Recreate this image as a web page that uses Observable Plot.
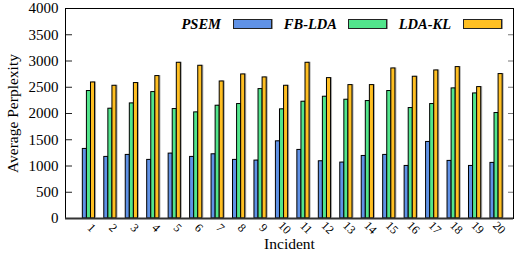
<!DOCTYPE html>
<html><head><meta charset="utf-8">
<script src="https://cdn.jsdelivr.net/npm/d3@7"></script>
<script src="https://cdn.jsdelivr.net/npm/@observablehq/plot@0.6"></script>
<style>
body{margin:0;background:#fff}
#wrap{position:relative;width:514px;height:258px}
#wrap svg text{font-family:"Liberation Serif",serif}
.lt{position:absolute;font:bold italic 14.5px "Liberation Serif",serif;color:#000;line-height:14px;top:17px;text-align:right}
.lb{position:absolute;top:19px;width:37px;height:8px;border:1px solid #222;box-shadow:1px 0 0 #999}
</style></head><body><div id="wrap"></div>
<script>
const incidents = [1,2,3,4,5,6,7,8,9,10,11,12,13,14,15,16,17,18,19,20];
const seriesNames = ["PSEM","FB-LDA","LDA-KL"];
const seriesColors = ["#6092e6","#52e58c","#ffbf22"];
const psem  = [1325,1173,1211,1116,1236,1173,1223,1116,1103,1470,1306,1090,1065,1191,1211,1001,1458,1097,1001,1059];
const fblda = [2428,2091,2192,2408,2085,2021,2148,2180,2465,2079,2224,2319,2262,2237,2428,2104,2180,2478,2382,2009];
const ldakl = [2591,2528,2580,2713,2966,2909,2610,2744,2687,2528,2966,2674,2541,2541,2858,2700,2820,2884,2503,2751];
const yTicks = [0,500,1000,1500,2000,2500,3000,3500,4000];

const values = [psem, fblda, ldakl];
const rows = [];
values.forEach((arr, k) => arr.forEach((v, i) => rows.push({incident: incidents[i], series: seriesNames[k], k, value: v})));
const bw = 0.19;
const x1 = d => d.incident + (d.k - 1.5) * bw;
const x2 = d => d.incident + (d.k - 0.5) * bw;
const FF = "Liberation Serif";

const chart = Plot.plot({
  width: 514, height: 258,
  marginLeft: 65, marginRight: 1, marginTop: 8, marginBottom: 40,
  style: {fontFamily: FF, fontSize: "15px", background: "#fff"},
  x: {type: "linear", domain: [-0.093, 20.79], axis: null},
  y: {domain: [0, 4000], axis: null},
  color: {domain: seriesNames, range: seriesColors},
  marks: [
    Plot.rectY(rows, {x1, x2, y1: 0, y2: "value", fill: "#8a8a8a", fillOpacity: 0.7, dx: 1.5, dy: -0.5}),
    Plot.rectY(rows, {x1, x2, y1: 0, y2: "value", fill: "series", stroke: "#000", strokeWidth: 1}),
    Plot.axisY({ticks: yTicks, tickSize: 0, tickPadding: 7, fontSize: 15, fontFamily: FF, label: null, tickFormat: d => String(d)}),
    Plot.axisY({ticks: yTicks, tickSize: 7, dx: 7, stroke: "#222", tickFormat: () => "", label: null}),
    Plot.axisY({anchor: "right", ticks: yTicks, tickSize: 6, dx: -6, stroke: "#777", tickFormat: () => "", label: null}),
    Plot.text(incidents, {x: d => d, frameAnchor: "bottom", dy: 12, rotate: 45, fontSize: 12, fontFamily: FF, textAnchor: "middle", fill: "#000"}),
    Plot.text(["Incident"], {frameAnchor: "bottom", dy: 30, fontSize: 15.5, fontFamily: FF, textAnchor: "middle"}),
    Plot.text(["Average Perplexity"], {frameAnchor: "left", dx: -52, rotate: -90, fontSize: 15.5, fontFamily: FF, textAnchor: "middle"}),
    Plot.frame({stroke: "#000", strokeWidth: 1}),
    Plot.ruleY([0], {stroke: "#333", strokeWidth: 2})
  ]
});
const wrap = document.getElementById("wrap");
wrap.appendChild(chart);

const legendTextRight = [221, 337, 451];
const legendBoxLeft = [233, 348, 463];
seriesNames.forEach((name, k) => {
  const t = document.createElement("div");
  t.className = "lt";
  t.textContent = name;
  t.style.right = (514 - legendTextRight[k]) + "px";
  wrap.appendChild(t);
  const b = document.createElement("div");
  b.className = "lb";
  b.style.left = legendBoxLeft[k] + "px";
  b.style.background = seriesColors[k];
  wrap.appendChild(b);
});
</script></body></html>
